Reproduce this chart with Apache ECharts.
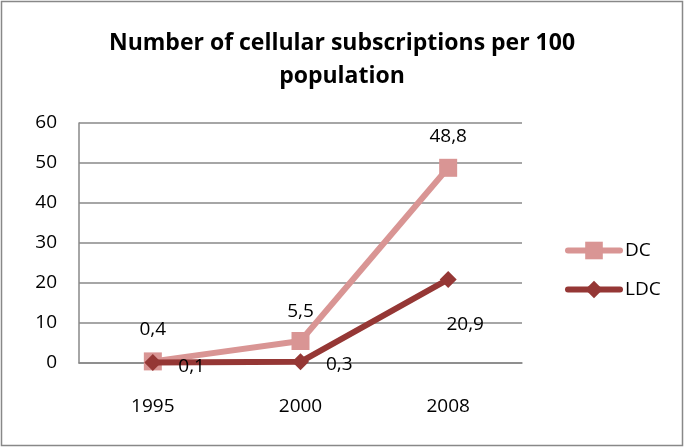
<!DOCTYPE html>
<html><head><meta charset="utf-8">
<script src="https://cdn.jsdelivr.net/npm/echarts@6/dist/echarts.min.js"></script>
<style>html,body{margin:0;padding:0;background:#fff}#c{width:684px;height:447px}</style>
</head><body><div id="c"></div>
<script>
const categories = ['1995', '2000', '2008'];
const dcValues = [0.4, 5.5, 48.8];
const ldcValues = [0.1, 0.3, 20.9];
const seriesNames = ['DC', 'LDC'];
const titleText = 'Number of cellular subscriptions per 100\npopulation';

const FONT = '"Open Sans", "Noto Sans", sans-serif';
const fmt = p => String(p.value).replace('.', ',');

const ldcLabelPos = [
  {position: 'right', offset: [12, 4]},
  {position: 'right', offset: [12, 3]},
  {position: 'bottom', offset: [17, 22]}
];
const dcLabelPos = [
  {position: 'top', offset: [0, -8]},
  {position: 'top', offset: [0, -6]},
  {position: 'top', offset: [0, -8]}
];

const chart = echarts.init(document.getElementById('c'));
chart.setOption({
  animation: false,
  backgroundColor: '#fff',
  textStyle: {fontFamily: FONT},
  title: {
    text: titleText, left: 'center', top: 22,
    textStyle: {fontFamily: FONT, fontWeight: 'bold', fontSize: 23, lineHeight: 33, color: '#000'}
  },
  graphic: [{type: 'rect', shape: {x: 1.5, y: 1.5, width: 681, height: 444}, style: {fill: 'none', stroke: '#888', lineWidth: 1.5}, silent: true}],
  legend: {
    orient: 'vertical', left: 560, top: 236, itemGap: 20,
    itemWidth: 52, itemHeight: 22,
    lineStyle: {width: 6, cap: 'round'},
    textStyle: {fontFamily: FONT, fontSize: 19, color: '#000'},
    data: seriesNames
  },
  grid: {left: 79, right: 162, top: 123, bottom: 84, containLabel: false},
  xAxis: {
    type: 'category', data: categories, boundaryGap: true,
    axisLine: {lineStyle: {color: '#888', width: 1.5}},
    axisTick: {show: false},
    axisLabel: {fontFamily: FONT, fontSize: 19, color: '#000', margin: 34}
  },
  yAxis: {
    type: 'value', min: 0, max: 60, interval: 10,
    axisLine: {show: true, lineStyle: {color: '#888', width: 1.5}},
    axisTick: {show: false},
    splitLine: {lineStyle: {color: '#888', width: 1.5}},
    axisLabel: {fontFamily: FONT, fontSize: 19, color: '#000', margin: 22}
  },
  series: [
    {
      name: seriesNames[0], type: 'line', data: dcValues.map((v, i) => ({value: v, label: dcLabelPos[i]})),
      symbol: 'rect', symbolSize: 18,
      lineStyle: {color: '#D99594', width: 6},
      itemStyle: {color: '#D99594'},
      label: {show: true, formatter: fmt, fontFamily: FONT, fontSize: 19, color: '#000'},
      z: 2
    },
    {
      name: seriesNames[1], type: 'line', data: ldcValues.map((v, i) => ({value: v, label: ldcLabelPos[i]})),
      symbol: 'diamond', symbolSize: 17,
      lineStyle: {color: '#953735', width: 6},
      itemStyle: {color: '#953735'},
      label: {show: true, formatter: fmt, fontFamily: FONT, fontSize: 19, color: '#000'},
      z: 3
    }
  ]
});
</script></body></html>
